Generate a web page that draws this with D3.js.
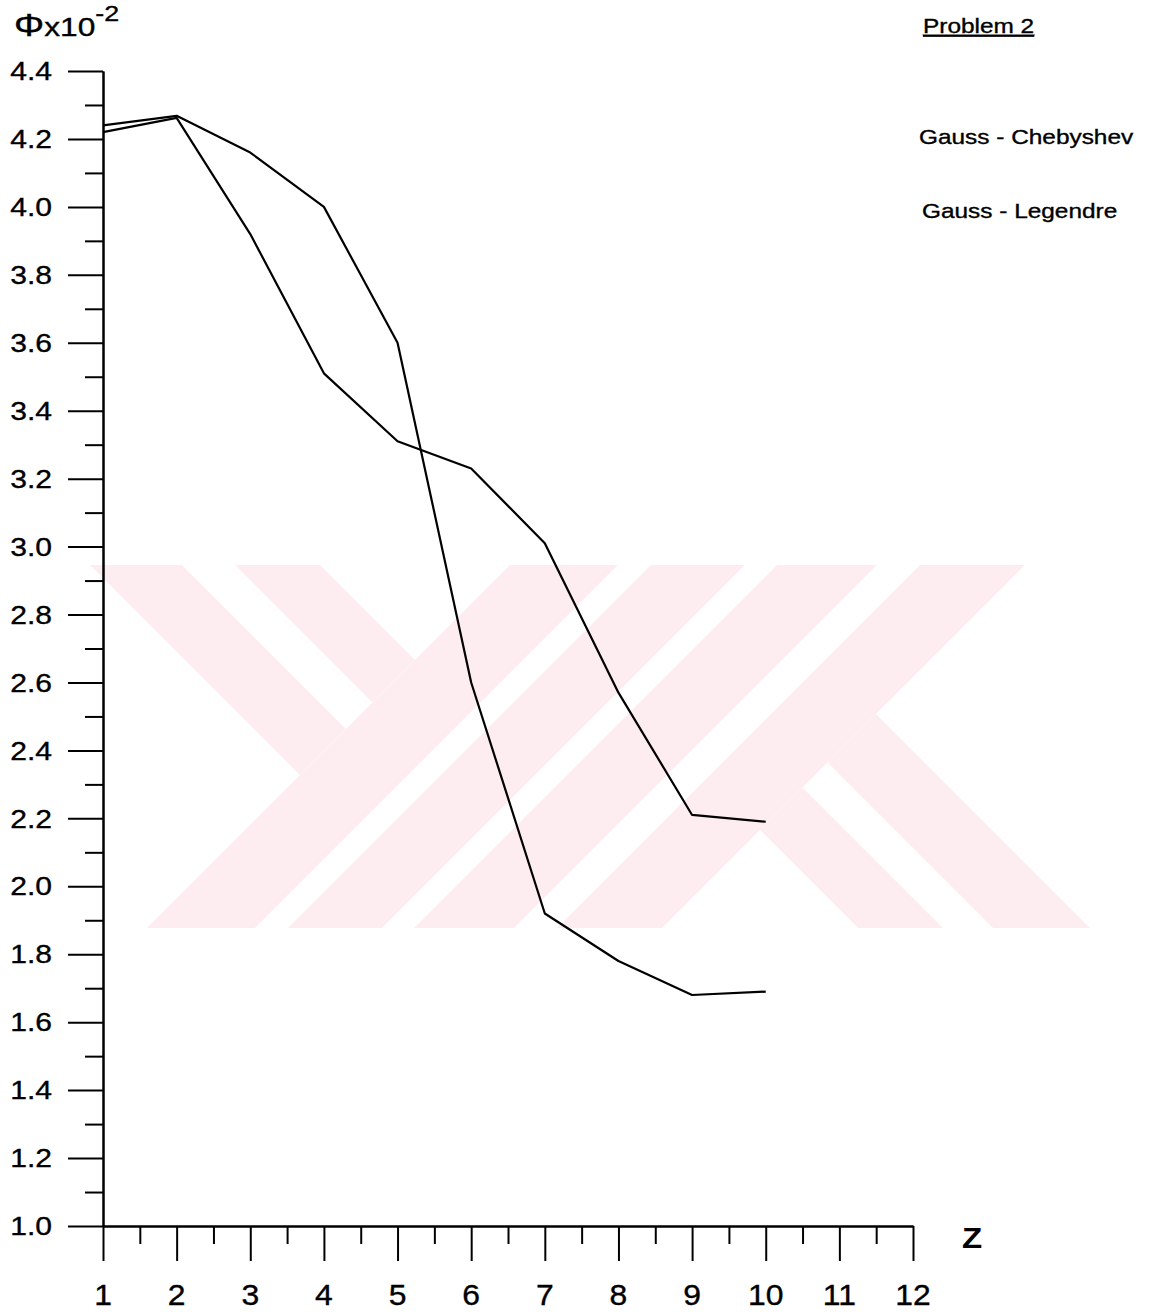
<!DOCTYPE html>
<html>
<head>
<meta charset="utf-8">
<script src="https://cdn.jsdelivr.net/npm/d3@7"></script>
<style>
  html, body { margin: 0; padding: 0; background: #ffffff; }
  svg { display: block; font-family: "Liberation Sans", Arial, sans-serif; }
  .lbl { stroke: #000; stroke-width: 0.35px; }
</style>
</head>
<body>
<script>
// ---- data ----
const zValues = [1, 2, 3, 4, 5, 6, 7, 8, 9, 10];
const gaussChebyshev = [4.24, 4.268, 4.16, 4.00, 3.60, 2.60, 1.92, 1.78, 1.68, 1.69];
const gaussLegendre  = [4.22, 4.262, 3.92, 3.51, 3.31, 3.23, 3.01, 2.57, 2.21, 2.19];
const seriesNames = ["Gauss - Chebyshev", "Gauss - Legendre"];
const xTickLabels = [1, 2, 3, 4, 5, 6, 7, 8, 9, 10, 11, 12];
const yTickLabels = [1.0, 1.2, 1.4, 1.6, 1.8, 2.0, 2.2, 2.4, 2.6, 2.8, 3.0, 3.2, 3.4, 3.6, 3.8, 4.0, 4.2, 4.4];
const chartTitle = "Problem 2";

// ---- layout ----
const W = 1150, H = 1316;
const x = d3.scaleLinear().domain([1, 12]).range([103, 913]);
const y = d3.scaleLinear().domain([1.0, 4.4]).range([1226, 71]);

const svg = d3.select("body").append("svg")
  .attr("width", W).attr("height", H)
  .attr("viewBox", `0 0 ${W} ${H}`);

// faint background emblem made of diagonal bands (u = x + y, w = x - y)
const defs = svg.append("defs");
defs.append("clipPath").attr("id", "emblem-clip")
  .append("rect").attr("x", 0).attr("y", 565).attr("width", W).attr("height", 363);
const emblemBands = [
  { u: [600, 1075],  w: [-475, -383] },
  { u: [600, 1075],  w: [-330, -245] },
  { u: [1075, 1183], w: [-1200, 1200] },
  { u: [1216, 1310], w: [-1200, 1200] },
  { u: [1342, 1442], w: [-1200, 1200] },
  { u: [1485, 1590], w: [-1200, 1200] },
  { u: [1590, 2300], w: [-70, 15] },
  { u: [1590, 2300], w: [65, 162] }
];
svg.append("g").attr("clip-path", "url(#emblem-clip)")
  .append("g").attr("transform", "matrix(0.5,0.5,0.5,-0.5,0,0)")
  .selectAll("rect").data(emblemBands).join("rect")
  .attr("x", d => d.u[0]).attr("y", d => d.w[0])
  .attr("width", d => d.u[1] - d.u[0]).attr("height", d => d.w[1] - d.w[0])
  .attr("fill", "#fdedf1");

// ---- axes ----
const minorY = d3.range(11, 44, 2).map(v => v / 10);
const minorX = d3.range(1.5, 12, 1);

function styleAxis(g) {
  g.selectAll("path.domain").attr("stroke", "#000").attr("stroke-width", 2);
  g.selectAll(".tick line").attr("stroke", "#000").attr("stroke-width", 2);
  g.selectAll(".tick text").remove();
}

svg.append("g").attr("transform", `translate(${x(1)},0)`)
  .call(d3.axisLeft(y).tickValues(yTickLabels).tickSize(35).tickSizeOuter(0).tickFormat(""))
  .call(styleAxis);
svg.append("g").attr("transform", `translate(${x(1)},0)`)
  .call(d3.axisLeft(y).tickValues(minorY).tickSize(18).tickSizeOuter(0).tickFormat(""))
  .call(styleAxis);
svg.append("g").attr("transform", `translate(0,${y(1.0)})`)
  .call(d3.axisBottom(x).tickValues(xTickLabels).tickSize(35).tickSizeOuter(0).tickFormat(""))
  .call(styleAxis);
svg.append("g").attr("transform", `translate(0,${y(1.0)})`)
  .call(d3.axisBottom(x).tickValues(minorX).tickSize(18).tickSizeOuter(0).tickFormat(""))
  .call(styleAxis);

// tick labels (slightly widened lettering)
const fmt = d3.format(".1f");
svg.append("g").selectAll("text").data(yTickLabels).join("text")
  .attr("class", "lbl")
  .attr("transform", d => `translate(52,${y(d)}) scale(1.18,1)`)
  .attr("dy", "0.36em")
  .attr("text-anchor", "end")
  .attr("font-size", 25.5)
  .attr("fill", "#000")
  .text(d => fmt(d));

svg.append("g").selectAll("text").data(xTickLabels).join("text")
  .attr("class", "lbl")
  .attr("transform", d => `translate(${x(d)},1305) scale(1.1,1)`)
  .attr("text-anchor", "middle")
  .attr("font-size", 29)
  .attr("fill", "#000")
  .text(d => d);

// axis titles
svg.append("text")
  .attr("transform", "translate(972,1248) scale(1.1,1)")
  .attr("text-anchor", "middle")
  .attr("font-size", 30)
  .attr("font-weight", "bold")
  .attr("fill", "#000")
  .text("Z");

const yTitle = svg.append("text")
  .attr("class", "lbl")
  .attr("transform", "translate(14,36) scale(1.22,1)")
  .attr("fill", "#000")
  .attr("font-size", 26);
yTitle.append("tspan").attr("font-size", 31).text("Φ");
yTitle.append("tspan").text("x10");
yTitle.append("tspan").attr("font-size", 22).attr("dy", -15).text("-2");

// ---- series ----
const line = d3.line().x(d => x(d[0])).y(d => y(d[1]));
[gaussChebyshev, gaussLegendre].forEach(vals => {
  svg.append("path")
    .datum(zValues.map((z, i) => [z, vals[i]]))
    .attr("d", line)
    .attr("fill", "none")
    .attr("stroke", "#000")
    .attr("stroke-width", 2.2)
    .attr("stroke-linejoin", "round");
});

// ---- title and legend text ----
svg.append("text")
  .attr("class", "lbl")
  .attr("transform", "translate(923,33) scale(1.22,1)")
  .attr("font-size", 20)
  .attr("text-decoration", "underline")
  .attr("fill", "#000")
  .text(chartTitle);

svg.append("g").selectAll("text").data(seriesNames).join("text")
  .attr("class", "lbl")
  .attr("transform", (d, i) => `translate(${i === 0 ? 919 : 922},${i === 0 ? 144 : 218}) scale(1.22,1)`)
  .attr("font-size", 20)
  .attr("fill", "#000")
  .text(d => d);
</script>
</body>
</html>
